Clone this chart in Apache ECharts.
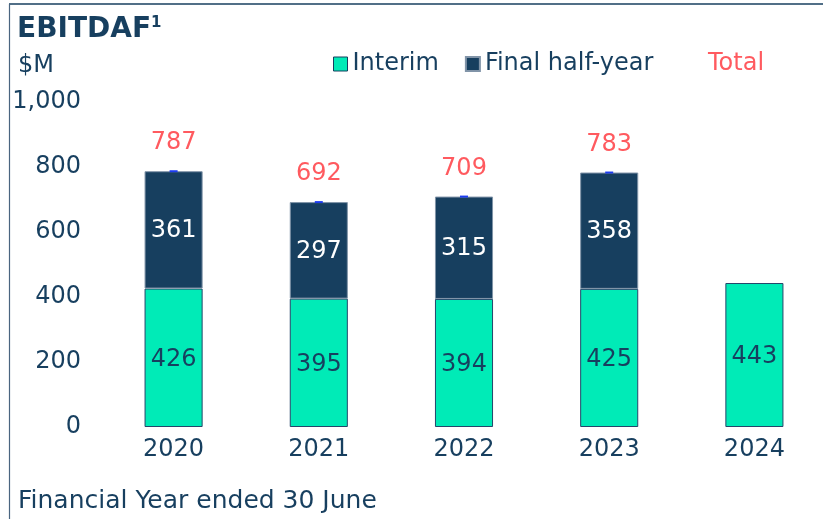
<!DOCTYPE html>
<html>
<head>
<meta charset="utf-8">
<script src="https://cdn.jsdelivr.net/npm/echarts@6/dist/echarts.min.js"></script>
<style>
  html, body { margin: 0; padding: 0; background: #fff; overflow: hidden; }
  #chart { width: 830px; height: 519px; }
</style>
</head>
<body>
<div id="chart"></div>
<script>
  // data
  const years = ['2020', '2021', '2022', '2023', '2024'];
  const interim = [426, 395, 394, 425, 443];
  const finalHalf = [361, 297, 315, 358, null];
  const totals = [787, 692, 709, 783, null];
  const yTicks = { min: 0, max: 1000, interval: 200 };

  const navy = '#173f5f';
  const mint = '#00ebb7';
  const salmon = '#ff5a5f';
  const font = 'DejaVu Sans';

  // chart div is a bit wider than the window so the last bar sits near the edge like the original
  let chart = echarts.init(document.getElementById('chart'));

  chart.setOption({
    backgroundColor: '#fff',
    textStyle: { fontFamily: font, color: navy },
    title: [{
      text: 'EBITDAF{sup|1}',
      left: 12,
      top: 11,
      textStyle: {
        fontFamily: font,
        fontSize: 28,
        fontWeight: 'bold',
        color: navy,
        rich: { sup: { fontSize: 15, fontWeight: 'bold', color: navy, verticalAlign: 'top', padding: [0, 0, 12, 0] } }
      }
    }, {
      text: '$M',
      left: 13,
      top: 49,
      textStyle: { fontFamily: font, fontSize: 24, fontWeight: 'normal', color: navy }
    }, {
      text: 'Financial Year ended 30 June',
      left: 13,
      top: 484,
      textStyle: { fontFamily: font, fontSize: 25, fontWeight: 'normal', color: navy }
    }],
    legend: [{
      left: 333,
      top: 52,
      padding: 0,
      itemWidth: 14,
      itemHeight: 14,
      itemGap: 26,
      textStyle: { fontFamily: font, fontSize: 24, color: navy },
      data: [
        { name: 'Interim', icon: 'rect', itemStyle: { color: mint, borderColor: navy, borderWidth: 1 } },
        { name: 'Final half-year', icon: 'rect', itemStyle: { color: navy } }
      ]
    }, {
      left: 703,
      top: 52,
      padding: 0,
      itemWidth: 0,
      itemHeight: 0,
      textStyle: { fontFamily: font, fontSize: 24, color: salmon },
      data: [{ name: 'Total', icon: 'none' }]
    }],
    grid: {
      left: 101,
      right: 3,
      top: 102,
      bottom: 92,
      containLabel: false
    },
    xAxis: {
      type: 'category',
      data: years,
      axisLine: { show: false },
      axisTick: { show: false },
      axisLabel: { margin: 11, fontSize: 24, color: navy, fontFamily: font }
    },
    yAxis: {
      type: 'value',
      min: yTicks.min,
      max: yTicks.max,
      interval: yTicks.interval,
      splitLine: { show: false },
      axisLine: { show: false },
      axisTick: { show: false },
      axisLabel: { margin: 20, fontSize: 24, color: navy, fontFamily: font }
    },
    graphic: [{
      type: 'line',
      shape: { x1: 9, y1: 4, x2: 830, y2: 4 },
      style: { stroke: navy, lineWidth: 1.5 }
    }, {
      type: 'line',
      shape: { x1: 9.5, y1: 4, x2: 9.5, y2: 519 },
      style: { stroke: '#4a6580', lineWidth: 1.2 }
    }],
    series: [{
      name: 'Interim',
      type: 'bar',
      stack: 'ebitdaf',
      barWidth: '40%',
      data: interim,
      itemStyle: { color: mint, borderColor: '#24466a', borderWidth: 1 },
      label: { show: true, position: 'inside', fontSize: 24, color: navy, fontFamily: font, offset: [0, 2] }
    }, {
      name: 'Final half-year',
      type: 'bar',
      stack: 'ebitdaf',
      barWidth: '40%',
      data: finalHalf,
      itemStyle: { color: navy, borderColor: '#8194a8', borderWidth: 1 },
      label: { show: true, position: 'inside', fontSize: 24, color: '#fff', fontFamily: font, offset: [0, 1] }
    }, {
      name: 'Total',
      type: 'scatter',
      data: totals,
      symbol: 'rect',
      symbolSize: [8, 2],
      itemStyle: { color: '#1d3cf0', opacity: 1 },
      label: { show: true, position: 'top', distance: 15, fontSize: 24, color: salmon, fontFamily: font },
      z: 5
    }]
  });
</script>
</body>
</html>
